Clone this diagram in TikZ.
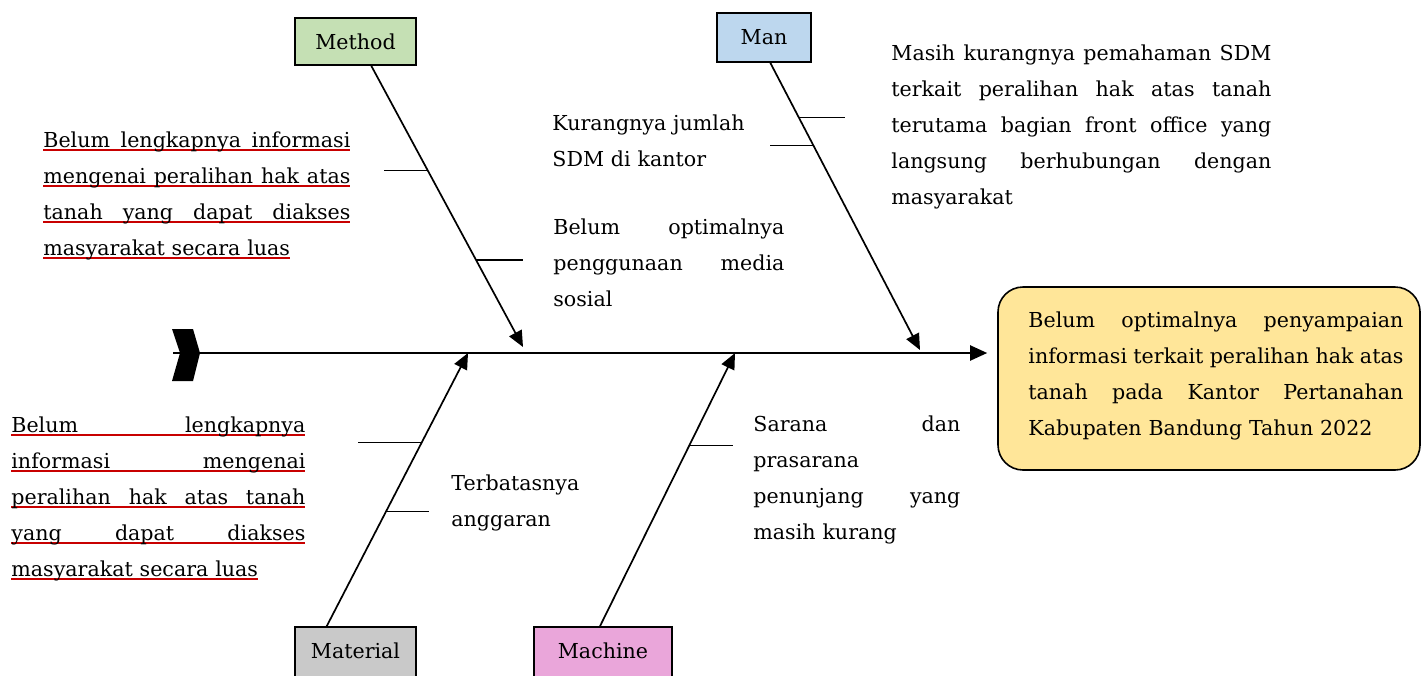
\documentclass[tikz,border=0pt]{standalone}
\usepackage{fontspec}
\setmainfont{DejaVu Serif}
\usepackage{xcolor}
\usetikzlibrary{arrows.meta}
\definecolor{methodgreen}{RGB}{197,224,180}
\definecolor{manblue}{RGB}{189,215,238}
\definecolor{materialgray}{RGB}{201,201,201}
\definecolor{machinepink}{RGB}{234,166,218}
\definecolor{effectgold}{RGB}{255,230,153}
\definecolor{ulred}{RGB}{200,0,0}
\newcommand{\jl}[1]{\leavevmode\hbox to \linewidth{\spaceskip=\fontdimen2\font plus 1fil minus \fontdimen4\font #1}}
\newcommand{\redul}[1]{\leavevmode\setbox0=\hbox{#1}\rlap{\color{ulred}\rule[-2.2pt]{\wd0}{1pt}}\box0}

\begin{document}
\begin{tikzpicture}[x=0.5pt,y=-0.5pt,
  txt/.style={anchor=base west,inner sep=0pt,align=left,font=\fontsize{10.3}{18}\selectfont},
  cat/.style={draw,line width=0.8pt,inner sep=0pt,font=\fontsize{10.3}{12}\selectfont},
  rib/.style={line width=0.85pt,-{Triangle[length=8pt,width=7pt]}},
  tick/.style={line width=0.7pt}]
 \useasboundingbox (0,0) rectangle (1422,675);

 \node[cat,fill=methodgreen,minimum width=60.5pt,minimum height=23.5pt] (method) at (355.5,41.5) {Method};
 \node[cat,fill=manblue,minimum width=47pt,minimum height=24.5pt] (man) at (764,37.5) {Man};
 \node[cat,fill=materialgray,minimum width=60.5pt,minimum height=28pt,text depth=4pt] (material) at (355.5,655) {Material};
 \node[cat,fill=machinepink,minimum width=69pt,minimum height=28pt,text depth=4pt] (machine) at (603,655) {Machine};
 \node[draw,line width=0.8pt,fill=effectgold,rounded corners=12.5pt,minimum width=211pt,minimum height=91.5pt] (effect) at (1209,378.5) {};

 \fill (172,329) -- (193,329) -- (200,353) -- (193,381) -- (172,381) -- (180,353) -- cycle;
 \coordinate (tail) at (173,353);
 \draw[line width=1pt,-{Triangle[length=8.5pt,width=7.5pt]},shorten >=5pt] (tail) -- (tail -| effect.west);

 \coordinate (methodtip) at (523,347);
 \coordinate (mantip) at (920,350);
 \coordinate (materialtip) at (468,353);
 \coordinate (machinetip) at (735,353);

 \draw[rib] (method.-57) -- coordinate[pos=0.372] (me1) coordinate[pos=0.691] (me2) (methodtip);
 \draw[tick] (me1) -- ++(-44,0);
 \draw[tick] (me2) -- ++(47,0);
 \draw[rib] (man.-76) -- coordinate[pos=0.191] (ma1) coordinate[pos=0.288] (ma2) (mantip);
 \draw[tick] (ma1) -- ++(46,0);
 \draw[tick] (ma2) -- ++(-43,0);
 \draw[rib] (material.135) -- coordinate[pos=0.672] (mt1) coordinate[pos=0.42] (mt2) (materialtip);
 \draw[tick] (mt1) -- ++(-64,0);
 \draw[tick] (mt2) -- ++(43,0);
 \draw[rib] (machine.96) -- coordinate[pos=0.661] (mc1) (machinetip);
 \draw[tick] (mc1) -- ++(44,0);

 \node[txt,text width=153.5pt] (lackinfo) at (43,147)
  {\redul{\jl{Belum lengkapnya informasi}}\\\redul{\jl{mengenai peralihan hak atas}}\\\redul{\jl{tanah yang dapat diakses}}\\\redul{masyarakat secara luas}};
 \node[txt,text width=115.5pt] (socmedia) at (553,234)
  {\jl{Belum optimalnya}\\\jl{penggunaan media}\\sosial};
 \node[txt,text width=110pt] (staff) at (552,130) {Kurangnya jumlah\\SDM di kantor};
 \node[txt,text width=190pt] (skill) at (891,60)
  {\jl{Masih kurangnya pemahaman SDM}\\\jl{terkait peralihan hak atas tanah}\\\jl{terutama bagian front office yang}\\\jl{langsung berhubungan dengan}\\masyarakat};
 \node[txt,text width=187.5pt] (effecttext) at (1028,327)
  {\jl{Belum optimalnya penyampaian}\\\jl{informasi terkait peralihan hak atas}\\\jl{tanah pada Kantor Pertanahan}\\Kabupaten Bandung Tahun 2022};
 \node[txt,text width=147pt] (lackinfo2) at (11,432)
  {\redul{\jl{Belum lengkapnya}}\\\redul{\jl{informasi mengenai}}\\\redul{\jl{peralihan hak atas tanah}}\\\redul{\jl{yang dapat diakses}}\\\redul{masyarakat secara luas}};
 \node[txt,text width=80pt] (budget) at (451,490) {Terbatasnya\\anggaran};
 \node[txt,text width=103.5pt] (facility) at (753,431)
  {\jl{Sarana dan}\\prasarana\\\jl{penunjang yang}\\masih kurang};
\end{tikzpicture}
\end{document}
